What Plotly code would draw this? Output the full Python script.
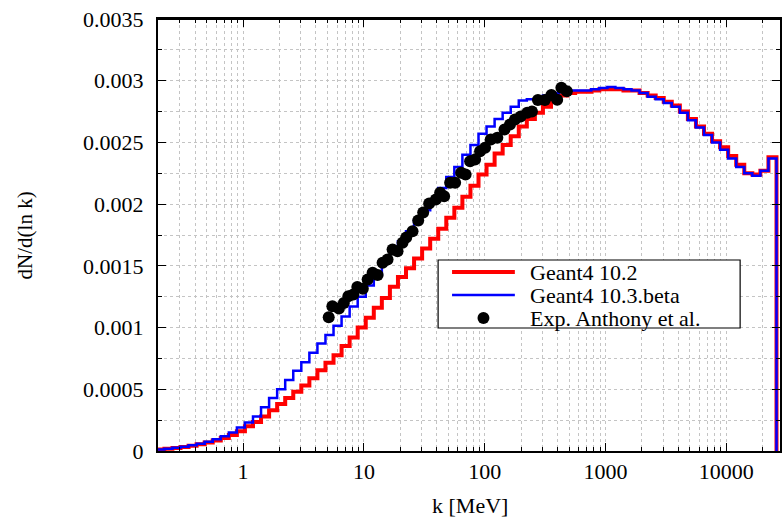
import numpy as np
import plotly.graph_objects as go

# ---- data ----
# histogram: 15 log-spaced bins per decade, last edge at log10(k)=4.415
n_bins = 77
bins_per_decade = 15
last_edge_log = 4.415

g4_102 = [  # Geant4 10.2 (x1e-3)
    0.012, 0.018, 0.025, 0.033, 0.043, 0.055, 0.068, 0.085, 0.105, 0.13,
    0.16, 0.20, 0.235, 0.28, 0.33, 0.38, 0.43, 0.48, 0.53, 0.59,
    0.655, 0.715, 0.775, 0.85, 0.92, 1.00, 1.08, 1.16, 1.24, 1.33,
    1.41, 1.48, 1.56, 1.64, 1.72, 1.80, 1.89, 1.97, 2.06, 2.15,
    2.24, 2.32, 2.41, 2.48, 2.55, 2.63, 2.69, 2.74, 2.79, 2.84,
    2.88, 2.90, 2.91, 2.91, 2.92, 2.93, 2.93, 2.93, 2.92, 2.92,
    2.90, 2.88, 2.86, 2.83, 2.80, 2.75, 2.69, 2.63, 2.57, 2.51,
    2.46, 2.39, 2.32, 2.25, 2.24, 2.27, 2.38]

g4_103b = [  # Geant4 10.3.beta (x1e-3)
    0.012, 0.018, 0.026, 0.035, 0.046, 0.058, 0.075, 0.095, 0.12, 0.15,
    0.19, 0.23, 0.28, 0.355, 0.43, 0.50, 0.575, 0.65, 0.72, 0.795,
    0.87, 0.94, 1.015, 1.09, 1.17, 1.25, 1.34, 1.43, 1.53, 1.62,
    1.70, 1.78, 1.87, 1.95, 2.04, 2.13, 2.22, 2.30, 2.40, 2.48,
    2.57, 2.63, 2.69, 2.74, 2.79, 2.84, 2.85, 2.86, 2.88, 2.90,
    2.91, 2.92, 2.92, 2.92, 2.93, 2.94, 2.95, 2.94, 2.93, 2.92,
    2.90, 2.87, 2.85, 2.82, 2.79, 2.74, 2.68, 2.62, 2.56, 2.50,
    2.44, 2.37, 2.30, 2.25, 2.23, 2.27, 2.37]

exp_k = [5.11, 5.48, 6.21, 6.82, 7.43, 8.17, 8.82, 9.79, 10.73, 11.80,
         12.98, 14.27, 15.69, 17.26, 18.98, 20.87, 22.39, 25.25, 28.13, 30.94,
         34.67, 39.39, 42.74, 46.12, 51.70, 56.87, 63.73, 69.42, 75.62, 83.18,
         91.47, 100.6, 112.1, 127.1, 145.7, 161.8, 177.9, 198.3, 224.8, 245.9,
         275.5, 314.8, 356.1, 397.7, 430.8, 478.2]
exp_v = [1.084, 1.173, 1.155, 1.199, 1.254, 1.268, 1.329, 1.314, 1.389, 1.444,
         1.426, 1.525, 1.551, 1.633, 1.619, 1.687, 1.730, 1.781, 1.867, 1.932,
         2.005, 2.038, 2.092, 2.064, 2.173, 2.173, 2.254, 2.240, 2.348, 2.362,
         2.429, 2.456, 2.524, 2.537, 2.605, 2.645, 2.686, 2.710, 2.740, 2.751,
         2.844, 2.844, 2.884, 2.845, 2.943, 2.915]

series_names = ["Geant4 10.2", "Geant4 10.3.beta", "Exp. Anthony et al."]
x_tick_vals = [1, 10, 100, 1000, 10000]
x_tick_text = ["1", "10", "100", "1000", "10000"]
y_tick_vals = [0, 0.0005, 0.001, 0.0015, 0.002, 0.0025, 0.003, 0.0035]
y_tick_text = ["0", "0.0005", "0.001", "0.0015", "0.002", "0.0025", "0.003", "0.0035"]

# ---- build step histograms ----
edges = 10 ** (last_edge_log - (n_bins - np.arange(n_bins + 1)) / bins_per_decade)

def step(vals):
    v = np.array(vals) * 1e-3
    return list(edges), list(v) + [0.0]

FONT = "Liberation Serif"
RED, BLUE = "#ff0000", "#0000ff"

fig = go.Figure()
xr, yr = step(g4_102)
fig.add_trace(go.Scatter(x=xr, y=yr, mode="lines", line=dict(color=RED, width=4, shape="hv"),
                         name=series_names[0], showlegend=False))
xb, yb = step(g4_103b)
fig.add_trace(go.Scatter(x=xb, y=yb, mode="lines", line=dict(color=BLUE, width=2.5, shape="hv"),
                         name=series_names[1], showlegend=False))
fig.add_trace(go.Scatter(x=exp_k, y=np.array(exp_v) * 1e-3, mode="markers",
                         marker=dict(color="black", size=12), name=series_names[2], showlegend=False))

minor_x = [m * d for d in [0.1, 1, 10, 100, 1000, 10000] for m in range(2, 10)]

grid_col = "#c4c4c4"
XRANGE = [-0.7046, 4.444]
axis_common = dict(ticks="inside", ticklen=8, tickwidth=1, tickcolor="black",
                   showline=True, linecolor="black", linewidth=2, mirror="ticks",
                   showgrid=True, gridcolor=grid_col, griddash="dot", gridwidth=1,
                   tickfont=dict(family=FONT, size=22, color="black"), zeroline=False,
                   ticklabeloverflow="allow")
fig.update_layout(
    xaxis=dict(type="log", range=XRANGE, tickvals=x_tick_vals, ticktext=x_tick_text,
               minor=dict(tickvals=minor_x, ticks="inside", ticklen=4, tickcolor="black",
                          showgrid=True, gridcolor=grid_col, griddash="dot", gridwidth=1),
               **axis_common),
    yaxis=dict(range=[0, 0.0035], tickvals=y_tick_vals, ticktext=y_tick_text,
               minor=dict(dtick=0.00025, tick0=0, ticks="inside", ticklen=4, tickcolor="black",
                          showgrid=True, gridcolor=grid_col, griddash="dot", gridwidth=1),
               ticklabelstandoff=8, **axis_common),
)

# page pixel -> paper coordinates (plot area spans x 158..782, y 19..451)
W, H = 782, 518
PL, PR, PT, PB = 158.0, 782.0, 19.0, 451.0
def px(X):
    return (X - PL) / (PR - PL)
def py(Y):
    return 1 - (Y - PT) / (PB - PT)

shapes = [
    # top edge of the frame
    dict(type="line", xref="paper", yref="paper", x0=0, x1=1, y0=1, y1=1,
         line=dict(color="black", width=2), layer="above"),
    # legend box and samples
    dict(type="rect", xref="paper", yref="paper", x0=px(439), x1=px(742), y0=py(328), y1=py(260),
         line=dict(color="black", width=1.2), fillcolor="white", layer="above"),
    dict(type="line", xref="paper", yref="paper", x0=px(453), x1=px(516), y0=py(272), y1=py(272),
         line=dict(color=RED, width=4)),
    dict(type="line", xref="paper", yref="paper", x0=px(453), x1=px(516), y0=py(295), y1=py(295),
         line=dict(color=BLUE, width=2.5)),
    dict(type="circle", xref="paper", yref="paper", x0=px(478.5), x1=px(490.5), y0=py(324), y1=py(312),
         line=dict(color="black", width=0), fillcolor="black"),
]
annotations = [
    dict(text="dN/d(ln k)", x=px(25), y=py(235), xref="paper", yref="paper", showarrow=False,
         xanchor="center", yanchor="middle", textangle=-90,
         font=dict(family=FONT, size=21, color="black")),
    dict(text="k [MeV]", x=px(471), y=py(505), xref="paper", yref="paper", showarrow=False,
         xanchor="center", yanchor="middle", font=dict(family=FONT, size=22, color="black")),
]
for name, yc in zip(series_names, [272, 295, 318]):
    annotations.append(dict(text=name, x=px(529), y=py(yc), xref="paper", yref="paper",
                            showarrow=False, xanchor="left", yanchor="middle",
                            font=dict(family=FONT, size=22, color="black")))

fig.update_layout(
    width=W, height=H,
    margin=dict(l=PL, r=W - PR, t=PT, b=H - PB),
    paper_bgcolor="white", plot_bgcolor="white",
    font=dict(family=FONT, size=22, color="black"),
    showlegend=False,
    shapes=shapes, annotations=annotations,
)

# remove the browser's default 8px page margin so the figure fills the window exactly
fig.write_html("out.html", config={"displayModeBar": False},
               post_script="document.body.style.margin='0';document.body.style.overflow='hidden';")
